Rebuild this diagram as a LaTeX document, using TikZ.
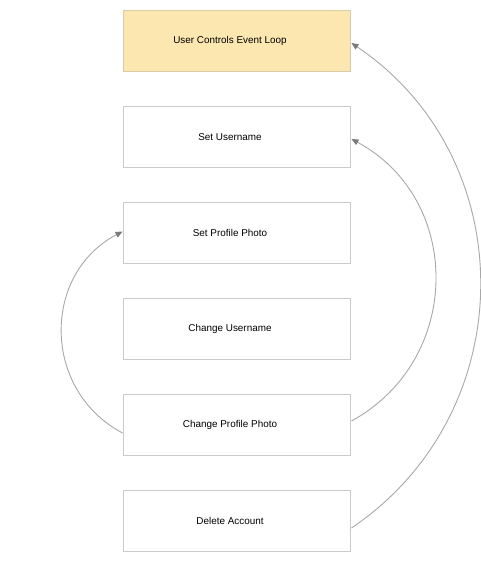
\documentclass[tikz,border=0pt]{standalone}
\usepackage{fontspec}
\setmainfont{Liberation Sans}
\usetikzlibrary{arrows.meta}
\definecolor{boxline}{HTML}{CBCBCB}
\definecolor{hiline}{HTML}{D8CDA8}
\definecolor{hifill}{HTML}{FCE7B0}
\definecolor{conn}{HTML}{A8A8A8}
\definecolor{tipc}{HTML}{7A7A7A}
\tikzset{
  stepbox/.style={draw=boxline, line width=1.9pt, fill=white, minimum width=227pt, minimum height=61pt, inner sep=0pt, font=\fontsize{9.9}{11}\selectfont},
  hibox/.style={stepbox, draw=hiline, fill=hifill},
  conn/.style={draw=conn, line width=0.9pt, -{Triangle[length=7pt,width=6pt,fill=tipc,color=tipc]}}
}
\newcommand{\lbl}[1]{\hspace*{-14pt}#1}
\begin{document}
\begin{tikzpicture}[x=1pt,y=-1pt]
\useasboundingbox (0,0) rectangle (480,567);
\node[hibox]   (b1) at (237,41)  {\lbl{User Controls Event Loop}};
\node[stepbox] (b2) at (237,137) {\lbl{Set Username}};
\node[stepbox] (b3) at (237,233) {\lbl{Set Profile Photo}};
\node[stepbox] (b4) at (237,329) {\lbl{Change Username}};
\node[stepbox] (b5) at (237,425) {\lbl{Change Profile Photo}};
\node[stepbox] (b6) at (237,521) {\lbl{Delete Account}};
\coordinate (s6) at ([yshift=-7pt]b6.east);
\coordinate (e1) at ([yshift=-2pt]b1.east);
\coordinate (s5r) at ([yshift=4pt]b5.east);
\coordinate (e2) at ([yshift=-2pt]b2.east);
\coordinate (s5l) at ([yshift=-8pt]b5.west);
\coordinate (e3) at ([yshift=1.5pt]b3.west);
\draw[conn] (s6) .. controls (522.9,412.3) and (522.9,158.7) .. (e1);
\draw[conn] (s5r) .. controls (463.2,359.8) and (463.2,199.2) .. (e2);
\draw[conn] (s5l) .. controls (41.7,390.3) and (41.7,273.9) .. (e3);
\end{tikzpicture}
\end{document}
